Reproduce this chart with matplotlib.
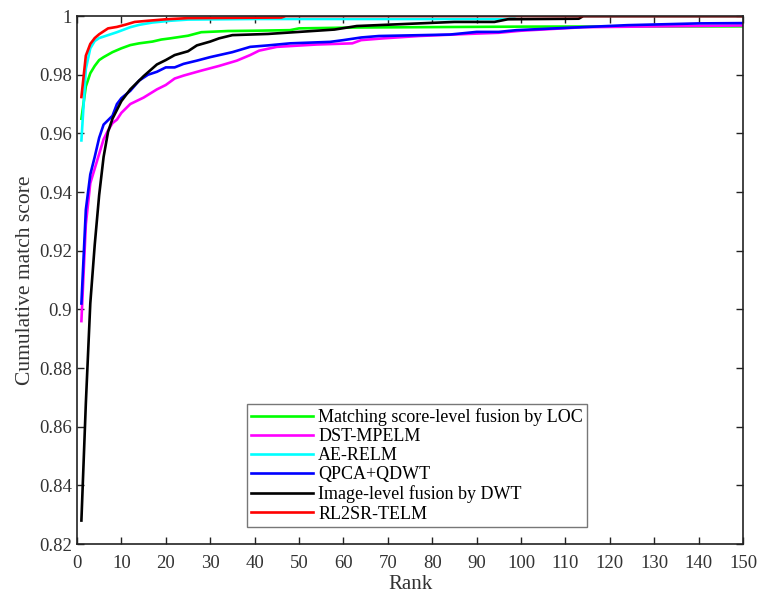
import numpy as np
import matplotlib.pyplot as plt

plt.rcParams['font.family'] = ['Liberation Serif', 'DejaVu Serif']

# CMC curves (rank, score)
loc_rank = [1, 2, 3, 4, 5, 6, 8, 10, 12, 14, 17, 19, 21, 25, 28, 34, 40, 48, 50, 63, 100, 150]
loc_score = [0.965, 0.976, 0.9805, 0.983, 0.985, 0.986, 0.9877, 0.989, 0.9901, 0.9907, 0.9913,
             0.992, 0.9924, 0.9933, 0.9945, 0.9949, 0.995, 0.9952, 0.9958, 0.9961, 0.9964, 0.9965]

dst_rank = [1, 2, 3, 4, 5, 6, 7, 8, 9, 10, 12, 15, 18, 20, 22, 24, 28, 32, 36, 39, 41, 45,
            54, 62, 64, 69, 77, 88, 95, 100, 114, 150]
dst_score = [0.896, 0.929, 0.943, 0.948, 0.953, 0.958, 0.961, 0.9635, 0.9647, 0.967, 0.970,
             0.9722, 0.975, 0.9765, 0.9787, 0.9797, 0.9814, 0.983, 0.9848, 0.9867, 0.9882,
             0.9895, 0.9903, 0.9907, 0.9918, 0.9924, 0.9932, 0.9939, 0.9943, 0.995, 0.9962, 0.9968]

ae_rank = [1, 2, 3, 4, 5, 7, 9, 12, 14, 17, 21, 25, 40, 97, 99, 150]
ae_score = [0.9576, 0.982, 0.989, 0.9915, 0.9925, 0.9935, 0.9945, 0.9962, 0.997, 0.9978,
            0.9984, 0.9988, 0.999, 0.999, 1.0, 1.0]

qp_rank = [1, 2, 3, 4, 5, 6, 7, 8, 9, 10, 12, 14, 16, 18, 20, 22, 24, 27, 30, 35, 39, 43,
           48, 57, 60, 64, 68, 84, 90, 95, 99, 112, 124, 140, 150]
qp_score = [0.902, 0.934, 0.946, 0.952, 0.9585, 0.963, 0.9645, 0.966, 0.970, 0.972, 0.9745,
            0.978, 0.980, 0.981, 0.9825, 0.9825, 0.9837, 0.9848, 0.986, 0.9877, 0.9895, 0.990,
            0.9907, 0.9912, 0.9918, 0.9927, 0.9932, 0.9937, 0.9946, 0.9946, 0.9952, 0.9961,
            0.9969, 0.9975, 0.9976]

dwt_rank = [1, 2, 3, 4, 5, 6, 7, 8, 9, 10, 12, 15, 18, 20, 22, 25, 27, 30, 32, 35, 39, 43,
            50, 58, 63, 77, 85, 94, 97, 113, 114, 150]
dwt_score = [0.828, 0.868, 0.902, 0.922, 0.939, 0.952, 0.9605, 0.965, 0.968, 0.971, 0.975, 0.9795,
             0.9835, 0.985, 0.9867, 0.988, 0.990, 0.9913, 0.9924, 0.9935, 0.9937, 0.9939, 0.9946,
             0.9954, 0.9966, 0.9975, 0.998, 0.998, 0.9989, 0.9991, 1.0, 1.0]

rl_rank = [1, 2, 3, 4, 5, 7, 9, 11, 13, 16, 20, 25, 46, 47, 150]
rl_score = [0.9724, 0.9865, 0.9905, 0.9925, 0.9938, 0.9958, 0.9963, 0.9971, 0.998, 0.9984,
            0.9989, 0.9993, 0.9995, 1.0, 1.0]

labels = ['Matching score-level fusion by LOC', 'DST-MPELM', 'AE-RELM',
          'QPCA+QDWT', 'Image-level fusion by DWT', 'RL2SR-TELM']
colors = ['#00ff00', '#ff00ff', '#00ffff', '#0000ff', 'black', '#ff0000']

fig = plt.figure(figsize=(7.59, 5.95), dpi=100)
ax = fig.add_axes([0.1014, 0.0857, 0.8776, 0.8873])

series = [(loc_rank, loc_score), (dst_rank, dst_score), (ae_rank, ae_score),
          (qp_rank, qp_score), (dwt_rank, dwt_score), (rl_rank, rl_score)]
for (r, s), lab, c in zip(series, labels, colors):
    ax.plot(r, s, color=c, linewidth=1.9, label=lab)

ax.set_xlim(0, 150)
ax.set_ylim(0.82, 1.0)
ax.set_xticks(np.arange(0, 151, 10))
ax.set_yticks(np.arange(0.82, 1.001, 0.02))
ax.set_yticklabels(['0.82', '0.84', '0.86', '0.88', '0.9', '0.92', '0.94', '0.96', '0.98', '1'])
ax.tick_params(direction='in', top=True, right=True, length=5, width=1,
               labelsize=13.5, colors='#222222', labelcolor='#333333')
ax.tick_params(axis='x', pad=8)
for sp in ax.spines.values():
    sp.set_linewidth(1.2)
    sp.set_color('#222222')

ax.set_xlabel('Rank', fontsize=15, color='#333333', labelpad=2)
ax.set_ylabel('Cumulative match score', fontsize=15.5, color='#333333', labelpad=3)

leg = ax.legend(loc='lower left', bbox_to_anchor=(0.255, 0.032), fontsize=13,
                frameon=True, fancybox=False, handlelength=3.4, handletextpad=0.3,
                borderpad=0.25, labelspacing=0.12, borderaxespad=0)
leg.get_frame().set_edgecolor('#555555')
leg.get_frame().set_linewidth(1.0)

fig.savefig('out.png', dpi=100)
